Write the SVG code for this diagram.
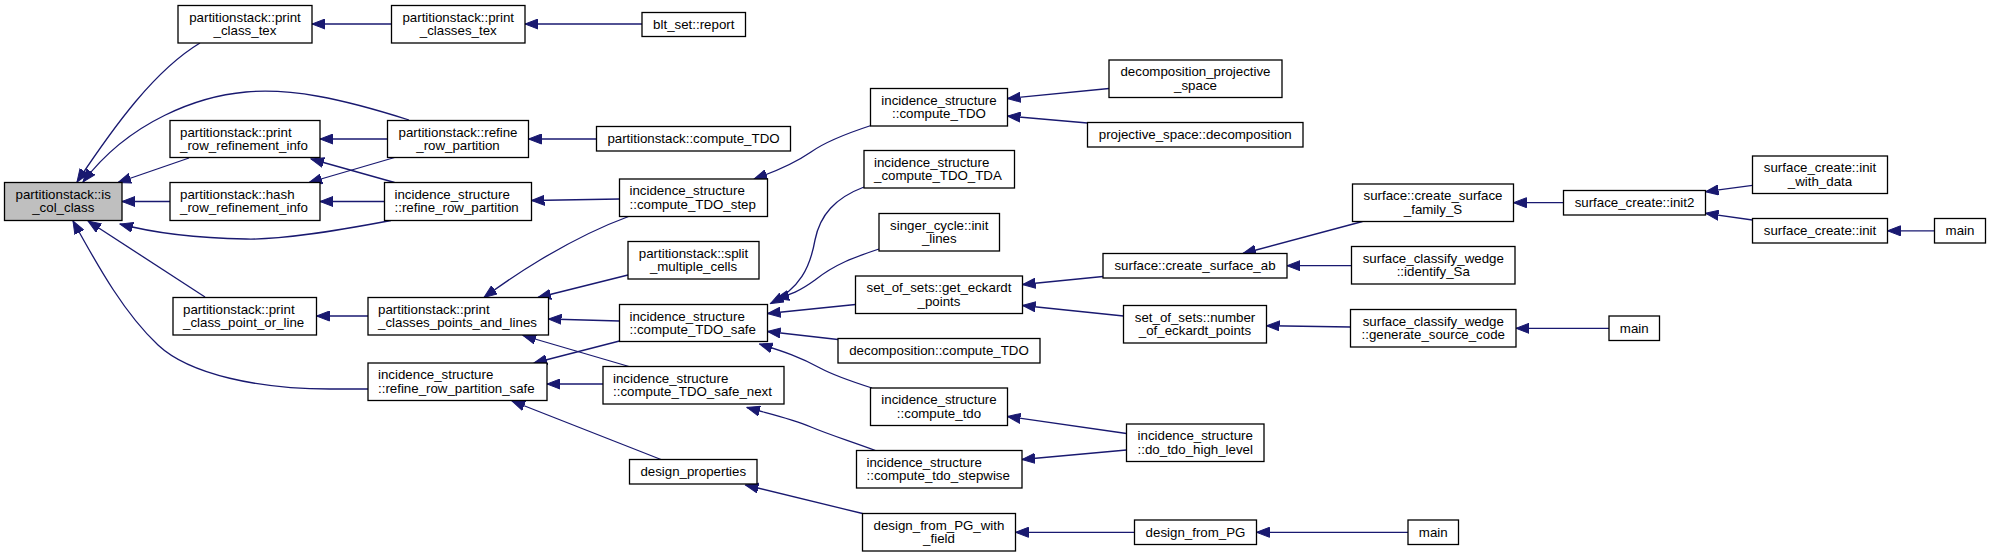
<svg xmlns="http://www.w3.org/2000/svg" width="1991" height="557" viewBox="0 0 1991 557">
<defs>
<style>
.n rect{fill:#fff;stroke:#000;stroke-width:1.3}
.n.g rect{fill:#bfbfbf}
text{font-family:"Liberation Sans",Arial,Helvetica,sans-serif;font-size:13.3px;fill:#000}
.c text{text-anchor:middle}
.e path{fill:none;stroke:#191970;stroke-width:1.3;marker-end:url(#ah)}
</style>
<marker id="ah" markerWidth="14" markerHeight="11" refX="13" refY="5.5" orient="auto" markerUnits="userSpaceOnUse"><path d="M0,0.5 L13,5.5 L0,10.5 Z" fill="#191970" stroke="#191970" stroke-width="1"/></marker>
</defs>
<rect width="1991" height="557" fill="#fff"/>
<g id="connectors" class="e">
<path d="M200,43 C155,70 115,125 77,182"/>
<path d="M409,120 C340,98 290,88 246,92 C200,96 130,120 83,182"/>
<path d="M189,158 L118,182.5"/>
<path d="M170,201.5 L122,201.5"/>
<path d="M391,220.5 C330,232 280,240 246,239 C190,238 150,232 120,224"/>
<path d="M205,297 L88,221"/>
<path d="M368,389 L330,389 C260,389 190,375 158,345 C125,314 100,270 73,221"/>
<path d="M391.5,24 L312,24"/>
<path d="M642,24 L525,24"/>
<path d="M387.5,139 L320,139"/>
<path d="M394.6,182.5 L311,159"/>
<path d="M394.6,157.5 L309,182.5"/>
<path d="M384.5,201.5 L320,201.5"/>
<path d="M596.5,139 L528.5,139"/>
<path d="M619.5,199 L531.5,200.5"/>
<path d="M368,316 L316.5,316"/>
<path d="M871,125.5 C845,134 825,142 811,152 C795,163 780,170 754,179"/>
<path d="M628.6,216.5 C600,227 565,245 540,260 C525,269 505,282 484,297.5"/>
<path d="M628,275 L538,297.5"/>
<path d="M619.5,321 L548.5,319"/>
<path d="M629,366.5 L523,335.5"/>
<path d="M619.5,341 L534,363"/>
<path d="M603,384 L547,384"/>
<path d="M661,459.5 L512,401"/>
<path d="M864,187 C835,198 820,215 815,240 C810,268 800,288 770.5,303.5"/>
<path d="M879,249 C855,257 835,264 815,280 C800,291 790,295 776,298.5"/>
<path d="M855.5,304.5 L767.5,313.5"/>
<path d="M838,339.5 L767.5,331.5"/>
<path d="M872,388 C850,381 835,376 820,368 C800,357 785,352 759.5,344"/>
<path d="M875.5,450.5 C850,441 830,435 811,427 C790,418 770,414 747,407.5"/>
<path d="M862.5,513.5 L745.5,485"/>
<path d="M1109,88.5 L1007.5,98.5"/>
<path d="M1087.5,123 L1007.5,116"/>
<path d="M1103,276.5 L1022.5,284.5"/>
<path d="M1123.5,316 L1022.5,305.5"/>
<path d="M1126.5,433.5 L1007.5,416.5"/>
<path d="M1126.5,450 L1022,459.5"/>
<path d="M1134.5,532.3 L1015.5,532.3"/>
<path d="M1408,532.3 L1256.5,532.3"/>
<path d="M1362.5,221.5 L1243,253.5"/>
<path d="M1351.5,265.7 L1287,265.7"/>
<path d="M1350.5,327 L1266.5,325.7"/>
<path d="M1609,328.3 L1516,328.3"/>
<path d="M1563.5,202.7 L1513.5,202.7"/>
<path d="M1752.5,185.3 L1705.5,191.7"/>
<path d="M1752.5,220 L1705.5,213.3"/>
<path d="M1934.5,230.8 L1887.5,230.8"/>
</g>
<g id="n1" class="n g c"><rect x="4.5" y="182.5" width="117.5" height="38"/><text x="63.25" y="198.5">partitionstack::is</text><text x="63.25" y="212.1">_col_class</text></g>
<g id="n2" class="n c"><rect x="178" y="5.5" width="134" height="37.5"/><text x="245" y="21.5">partitionstack::print</text><text x="245" y="35.1">_class_tex</text></g>
<g id="n3" class="n c"><rect x="391.5" y="5.5" width="133.5" height="37.5"/><text x="458.25" y="21.5">partitionstack::print</text><text x="458.25" y="35.1">_classes_tex</text></g>
<g id="n4" class="n c"><rect x="642" y="12.5" width="103.5" height="24"/><text x="693.75" y="29.3">blt_set::report</text></g>
<g id="n5" class="n"><rect x="170" y="120.5" width="150" height="37"/><text x="180" y="136.5">partitionstack::print</text><text x="180" y="150.1">_row_refinement_info</text></g>
<g id="n6" class="n c"><rect x="387.5" y="120.5" width="141" height="37"/><text x="458" y="136.5">partitionstack::refine</text><text x="458" y="150.1">_row_partition</text></g>
<g id="n7" class="n c"><rect x="596.5" y="126.5" width="194" height="24.5"/><text x="693.5" y="143.3">partitionstack::compute_TDO</text></g>
<g id="n8" class="n"><rect x="170" y="182.5" width="150" height="38"/><text x="180" y="198.5">partitionstack::hash</text><text x="180" y="212.1">_row_refinement_info</text></g>
<g id="n9" class="n"><rect x="384.5" y="182.5" width="147" height="38"/><text x="394.5" y="198.5">incidence_structure</text><text x="394.5" y="212.1">::refine_row_partition</text></g>
<g id="n10" class="n"><rect x="619.5" y="179" width="148" height="37.5"/><text x="629.5" y="195">incidence_structure</text><text x="629.5" y="208.6">::compute_TDO_step</text></g>
<g id="n11" class="n c"><rect x="870.5" y="88.5" width="137" height="37.5"/><text x="939" y="104.5">incidence_structure</text><text x="939" y="118.1">::compute_TDO</text></g>
<g id="n12" class="n c"><rect x="1109" y="60" width="173" height="37.5"/><text x="1195.5" y="76">decomposition_projective</text><text x="1195.5" y="89.6">_space</text></g>
<g id="n13" class="n c"><rect x="1087.5" y="122.5" width="215.5" height="24.5"/><text x="1195.25" y="139.3">projective_space::decomposition</text></g>
<g id="n14" class="n"><rect x="864" y="150.5" width="150.5" height="37.5"/><text x="874" y="166.5">incidence_structure</text><text x="874" y="180.1">_compute_TDO_TDA</text></g>
<g id="n15" class="n c"><rect x="879" y="213.5" width="120.5" height="37.5"/><text x="939.25" y="229.5">singer_cycle::init</text><text x="939.25" y="243.1">_lines</text></g>
<g id="n16" class="n c"><rect x="628" y="241.5" width="131" height="37.5"/><text x="693.5" y="257.5">partitionstack::split</text><text x="693.5" y="271.1">_multiple_cells</text></g>
<g id="n17" class="n"><rect x="173" y="297.5" width="143.5" height="37.5"/><text x="183" y="313.5">partitionstack::print</text><text x="183" y="327.1">_class_point_or_line</text></g>
<g id="n18" class="n"><rect x="368" y="297.5" width="180.5" height="37.5"/><text x="378" y="313.5">partitionstack::print</text><text x="378" y="327.1">_classes_points_and_lines</text></g>
<g id="n19" class="n"><rect x="619.5" y="304.5" width="148" height="37"/><text x="629.5" y="320.5">incidence_structure</text><text x="629.5" y="334.1">::compute_TDO_safe</text></g>
<g id="n20" class="n c"><rect x="855.5" y="276" width="167" height="37.5"/><text x="939" y="292">set_of_sets::get_eckardt</text><text x="939" y="305.6">_points</text></g>
<g id="n21" class="n c"><rect x="1103" y="253.5" width="184" height="24.5"/><text x="1195" y="270.3">surface::create_surface_ab</text></g>
<g id="n22" class="n c"><rect x="1352.5" y="184" width="161" height="37.5"/><text x="1433" y="200">surface::create_surface</text><text x="1433" y="213.6">_family_S</text></g>
<g id="n23" class="n c"><rect x="1351.5" y="246.5" width="163.5" height="37.5"/><text x="1433.25" y="262.5">surface_classify_wedge</text><text x="1433.25" y="276.1">::identify_Sa</text></g>
<g id="n24" class="n c"><rect x="1563.5" y="190.5" width="142" height="24.5"/><text x="1634.5" y="207.3">surface_create::init2</text></g>
<g id="n25" class="n c"><rect x="1752.5" y="156" width="135" height="37.5"/><text x="1820" y="172">surface_create::init</text><text x="1820" y="185.6">_with_data</text></g>
<g id="n26" class="n c"><rect x="1752.5" y="218.5" width="135" height="24.5"/><text x="1820" y="235.3">surface_create::init</text></g>
<g id="n27" class="n c"><rect x="1934.5" y="218.5" width="51" height="24.5"/><text x="1960" y="235.3">main</text></g>
<g id="n28" class="n c"><rect x="1123.5" y="305.5" width="143" height="37.5"/><text x="1195" y="321.5">set_of_sets::number</text><text x="1195" y="335.1">_of_eckardt_points</text></g>
<g id="n29" class="n c"><rect x="1350.5" y="309.5" width="165.5" height="37.5"/><text x="1433.25" y="325.5">surface_classify_wedge</text><text x="1433.25" y="339.1">::generate_source_code</text></g>
<g id="n30" class="n c"><rect x="1609" y="316" width="50.5" height="24.5"/><text x="1634.25" y="332.8">main</text></g>
<g id="n31" class="n c"><rect x="838" y="338.5" width="202" height="24.5"/><text x="939" y="355.3">decomposition::compute_TDO</text></g>
<g id="n32" class="n"><rect x="368" y="363" width="179" height="37.5"/><text x="378" y="379">incidence_structure</text><text x="378" y="392.6">::refine_row_partition_safe</text></g>
<g id="n33" class="n"><rect x="603" y="366.5" width="181" height="37.5"/><text x="613" y="382.5">incidence_structure</text><text x="613" y="396.1">::compute_TDO_safe_next</text></g>
<g id="n34" class="n c"><rect x="870.5" y="388" width="137" height="37.5"/><text x="939" y="404">incidence_structure</text><text x="939" y="417.6">::compute_tdo</text></g>
<g id="n35" class="n c"><rect x="1126.5" y="424" width="137.5" height="37.5"/><text x="1195.25" y="440">incidence_structure</text><text x="1195.25" y="453.6">::do_tdo_high_level</text></g>
<g id="n36" class="n"><rect x="856.5" y="450.5" width="165.5" height="37.5"/><text x="866.5" y="466.5">incidence_structure</text><text x="866.5" y="480.1">::compute_tdo_stepwise</text></g>
<g id="n37" class="n c"><rect x="629.5" y="459.5" width="127.5" height="24.5"/><text x="693.25" y="476.3">design_properties</text></g>
<g id="n38" class="n c"><rect x="862.5" y="513.5" width="153" height="37.5"/><text x="939" y="529.5">design_from_PG_with</text><text x="939" y="543.1">_field</text></g>
<g id="n39" class="n c"><rect x="1134.5" y="520" width="122" height="24.5"/><text x="1195.5" y="536.8">design_from_PG</text></g>
<g id="n40" class="n c"><rect x="1408" y="520" width="50.5" height="24.5"/><text x="1433.25" y="536.8">main</text></g>
</svg>
